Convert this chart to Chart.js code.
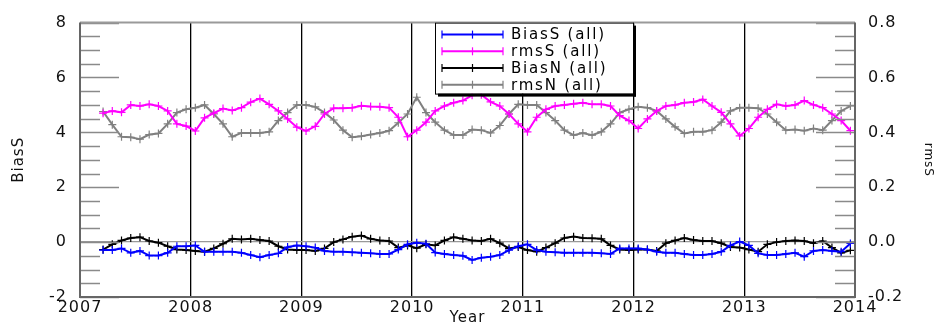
<!DOCTYPE html>
<html>
<head>
<meta charset="utf-8">
<script src="https://cdn.jsdelivr.net/npm/chart.js@4"></script>
<style>
  body { margin: 0; background: #fff; }
  canvas { display: block; }
</style>
</head>
<body>
<canvas id="myChart" width="935" height="327"></canvas>
<script>
// monthly values, Mar 2007 .. Dec 2013
const startYear = 2007;
const startMonth = 3;

const biasS = [
  -0.29, -0.29, -0.23, -0.39, -0.32, -0.49, -0.49, -0.39, -0.15, -0.15,
  -0.12, -0.35, -0.35, -0.35, -0.35, -0.39, -0.47, -0.55, -0.47, -0.41, -0.18, -0.12,
  -0.15, -0.20, -0.32, -0.35, -0.35, -0.37, -0.39, -0.41, -0.43, -0.43, -0.27, -0.08,
  -0.02, -0.06, -0.38, -0.43, -0.47, -0.50, -0.65, -0.57, -0.53, -0.47, -0.29, -0.15,
  -0.08, -0.29, -0.35, -0.37, -0.39, -0.39, -0.39, -0.39, -0.41, -0.43, -0.23, -0.23,
  -0.23, -0.27, -0.35, -0.39, -0.39, -0.43, -0.47, -0.47, -0.43, -0.35, -0.12, 0.02,
  -0.12, -0.41, -0.47, -0.47, -0.43, -0.39, -0.53, -0.32, -0.29, -0.32, -0.35, -0.05
];
const biasN = [
  -0.27, -0.08, 0.06, 0.15, 0.18, 0.04, -0.02, -0.15, -0.27, -0.29,
  -0.32, -0.35, -0.23, -0.06, 0.12, 0.10, 0.12, 0.08, 0.04, -0.15, -0.27, -0.29,
  -0.29, -0.32, -0.23, 0.00, 0.10, 0.20, 0.24, 0.12, 0.06, 0.04, -0.20, -0.12,
  -0.22, -0.08, -0.12, 0.06, 0.18, 0.12, 0.06, 0.04, 0.12, -0.04, -0.23, -0.18,
  -0.29, -0.35, -0.20, -0.04, 0.15, 0.20, 0.15, 0.14, 0.12, -0.12, -0.27, -0.29,
  -0.27, -0.27, -0.32, -0.04, 0.06, 0.15, 0.08, 0.04, 0.04, -0.04, -0.18, -0.20,
  -0.27, -0.35, -0.08, 0.00, 0.04, 0.06, 0.04, -0.04, 0.04, -0.20, -0.39, -0.30
];
const rmsS = [
  0.470, 0.478, 0.473, 0.500, 0.496, 0.502, 0.496, 0.478, 0.431, 0.423,
  0.405, 0.453, 0.470, 0.487, 0.480, 0.490, 0.510, 0.523, 0.502, 0.478, 0.449, 0.419,
  0.405, 0.422, 0.467, 0.488, 0.488, 0.490, 0.497, 0.494, 0.493, 0.490, 0.455, 0.384,
  0.408, 0.437, 0.478, 0.496, 0.508, 0.516, 0.535, 0.537, 0.511, 0.496, 0.467, 0.431,
  0.402, 0.455, 0.484, 0.496, 0.500, 0.504, 0.508, 0.502, 0.502, 0.496, 0.461, 0.443,
  0.414, 0.449, 0.478, 0.496, 0.500, 0.508, 0.511, 0.520, 0.496, 0.473, 0.431, 0.387,
  0.414, 0.455, 0.484, 0.502, 0.496, 0.500, 0.516, 0.500, 0.490, 0.467, 0.443, 0.406
];
const rmsN = [
  0.476, 0.428, 0.384, 0.382, 0.375, 0.392, 0.396, 0.431, 0.472, 0.484,
  0.490, 0.500, 0.467, 0.431, 0.384, 0.398, 0.398, 0.398, 0.402, 0.443, 0.472, 0.500,
  0.500, 0.493, 0.472, 0.445, 0.408, 0.382, 0.386, 0.392, 0.398, 0.406, 0.435, 0.467,
  0.528, 0.472, 0.437, 0.408, 0.390, 0.390, 0.410, 0.408, 0.398, 0.425, 0.467, 0.502,
  0.500, 0.500, 0.472, 0.443, 0.408, 0.390, 0.398, 0.390, 0.402, 0.431, 0.472, 0.484,
  0.493, 0.490, 0.478, 0.449, 0.420, 0.396, 0.402, 0.402, 0.408, 0.437, 0.478, 0.490,
  0.490, 0.488, 0.467, 0.437, 0.408, 0.410, 0.406, 0.414, 0.408, 0.443, 0.478, 0.496
];

const xTicks = [2007, 2008, 2009, 2010, 2011, 2012, 2013, 2014];
const leftTicks = [-2, 0, 2, 4, 6, 8];
const rightTicks = [-0.2, 0, 0.2, 0.4, 0.6, 0.8];

const seriesNames = ['BiasS (all)', 'rmsS (all)', 'BiasN (all)', 'rmsN (all)'];
const seriesColors = ['#0000ff', '#ff00ff', '#000000', '#808080'];

// month centre as decimal year
const monthX = biasS.map(function(v, i) {
  return startYear + (startMonth - 1 + i + 0.5) / 12;
});
function pts(arr) {
  return arr.map(function(v, i) { return { x: monthX[i], y: v }; });
}

const tickFont = { family: 'DejaVu Sans', size: 16 };

function makeSet(i, data, axis) {
  return {
    label: seriesNames[i],
    data: pts(data),
    yAxisID: axis,
    borderColor: seriesColors[i],
    backgroundColor: seriesColors[i],
    borderWidth: 2,
    pointStyle: 'cross',
    pointRadius: 4,
    pointBorderWidth: 1.2,
    pointBorderColor: seriesColors[i],
    fill: false,
    tension: 0
  };
}

// frame, inward ticks and the boxed legend
const framePlugin = {
  id: 'frame',
  beforeDraw: function(chart) {
    chart.ctx.letterSpacing = '1px';
  },
  afterDatasetsDraw: function(chart) {
    const ctx = chart.ctx;
    const a = chart.chartArea;
    const yl = chart.scales.y;
    ctx.save();
    ctx.letterSpacing = '0px';
    ctx.strokeStyle = '#8a8a8a';
    ctx.lineWidth = 1.5;
    for (let v = -2; v <= 8.001; v += 0.5) {
      const py = Math.round(yl.getPixelForValue(v)) + 0.5;
      const len = (Math.abs(v % 2) < 0.001) ? 39 : 20;
      ctx.beginPath();
      ctx.moveTo(a.left, py); ctx.lineTo(a.left + len, py);
      ctx.moveTo(a.right, py); ctx.lineTo(a.right - len, py);
      ctx.stroke();
    }
    // frame
    ctx.strokeStyle = '#9a9a9a';
    ctx.lineWidth = 2;
    ctx.beginPath();
    ctx.moveTo(a.left, a.top); ctx.lineTo(a.right, a.top);
    ctx.stroke();
    ctx.strokeStyle = '#666';
    ctx.beginPath();
    ctx.moveTo(a.left, a.top); ctx.lineTo(a.left, a.bottom);
    ctx.lineTo(a.right, a.bottom); ctx.lineTo(a.right, a.top);
    ctx.stroke();

    // legend
    const bx = a.left + 355, by = a.top, bw = 198, bh = 71;
    ctx.fillStyle = '#fff';
    ctx.fillRect(bx, by, bw, bh);
    ctx.fillStyle = '#000';
    ctx.fillRect(bx + bw, by + 3, 3, bh);
    ctx.fillRect(bx + 3, by + bh, bw, 3);
    ctx.strokeStyle = '#000';
    ctx.lineWidth = 1;
    ctx.strokeRect(bx + 0.5, by + 0.5, bw, bh);
    ctx.font = '15px "DejaVu Sans"';
    ctx.letterSpacing = '1.8px';
    ctx.textBaseline = 'middle';
    ctx.textAlign = 'left';
    for (let i = 0; i < seriesNames.length; i++) {
      const ry = by + 12 + i * 16.7;
      const x0 = bx + 7, x1 = bx + 68;
      ctx.strokeStyle = seriesColors[i];
      ctx.lineWidth = 2;
      ctx.beginPath();
      ctx.moveTo(x0, ry); ctx.lineTo(x1, ry);
      ctx.stroke();
      ctx.lineWidth = 1.2;
      [x0, (x0 + x1) / 2, x1].forEach(function(mx) {
        ctx.beginPath();
        ctx.moveTo(mx, ry - 4); ctx.lineTo(mx, ry + 4);
        ctx.stroke();
      });
      ctx.fillStyle = '#000';
      ctx.fillText(seriesNames[i], x1 + 8, ry + 1);
    }
    ctx.restore();
  }
};

window.onload = function() {
  let ctx = document.getElementById('myChart').getContext('2d');

  let myChart = new Chart(ctx, {
    type: 'line',
    data: {
      datasets: [
        makeSet(0, biasS, 'y'),
        makeSet(1, rmsS, 'y1'),
        makeSet(2, biasN, 'y'),
        makeSet(3, rmsN, 'y1')
      ]
    },
    options: {
      responsive: false,
      animation: false,
      layout: { padding: { top: 14, left: 0, right: 0, bottom: 0 } },
      plugins: {
        legend: { display: false },
        tooltip: { enabled: false }
      },
      scales: {
        x: {
          type: 'linear',
          min: 2007,
          max: 2014,
          afterBuildTicks: function(s) { s.ticks = xTicks.map(function(v) { return { value: v }; }); },
          afterFit: function(s) { s.height = 30; },
          border: { display: false },
          grid: {
            drawTicks: false,
            lineWidth: 1.3,
            color: function(c) {
              return (c.tick && c.tick.value > 2007 && c.tick.value < 2014) ? '#000' : 'rgba(0,0,0,0)';
            }
          },
          ticks: { font: tickFont, color: '#111', padding: 1, maxRotation: 0, autoSkip: false,
                   callback: function(v) { return String(v); } },
          title: { display: true, text: 'Year', font: { family: 'DejaVu Sans', size: 15, lineHeight: 1.2 },
                   color: '#111', padding: { top: 0, bottom: 0 } }
        },
        y: {
          position: 'left',
          min: -2,
          max: 8,
          afterBuildTicks: function(s) { s.ticks = leftTicks.map(function(v) { return { value: v }; }); },
          afterFit: function(s) { s.width = 80; },
          border: { display: false },
          grid: {
            drawTicks: false,
            lineWidth: 1.3,
            color: function(c) { return (c.tick && c.tick.value === 0) ? '#999' : 'rgba(0,0,0,0)'; }
          },
          ticks: { font: tickFont, color: '#111', padding: 13 },
          title: { display: true, text: 'BiasS', font: { family: 'DejaVu Sans', size: 15, lineHeight: 1.2 },
                   color: '#111', padding: { top: 10, bottom: 0 } }
        },
        y1: {
          position: 'right',
          min: -0.2,
          max: 0.8,
          afterBuildTicks: function(s) { s.ticks = rightTicks.map(function(v) { return { value: v }; }); },
          afterFit: function(s) { s.width = 80; },
          border: { display: false },
          grid: { display: false, drawTicks: false },
          ticks: { font: tickFont, color: '#111', padding: 13,
                   callback: function(v) { return Number(v).toFixed(1); } },
          title: { display: true, text: 'rmsS', font: { family: 'DejaVu Sans', size: 12, lineHeight: 1.2 },
                   color: '#111', padding: { top: 0, bottom: 0 } }
        }
      }
    },
    plugins: [framePlugin]
  });
};
</script>
</body>
</html>
